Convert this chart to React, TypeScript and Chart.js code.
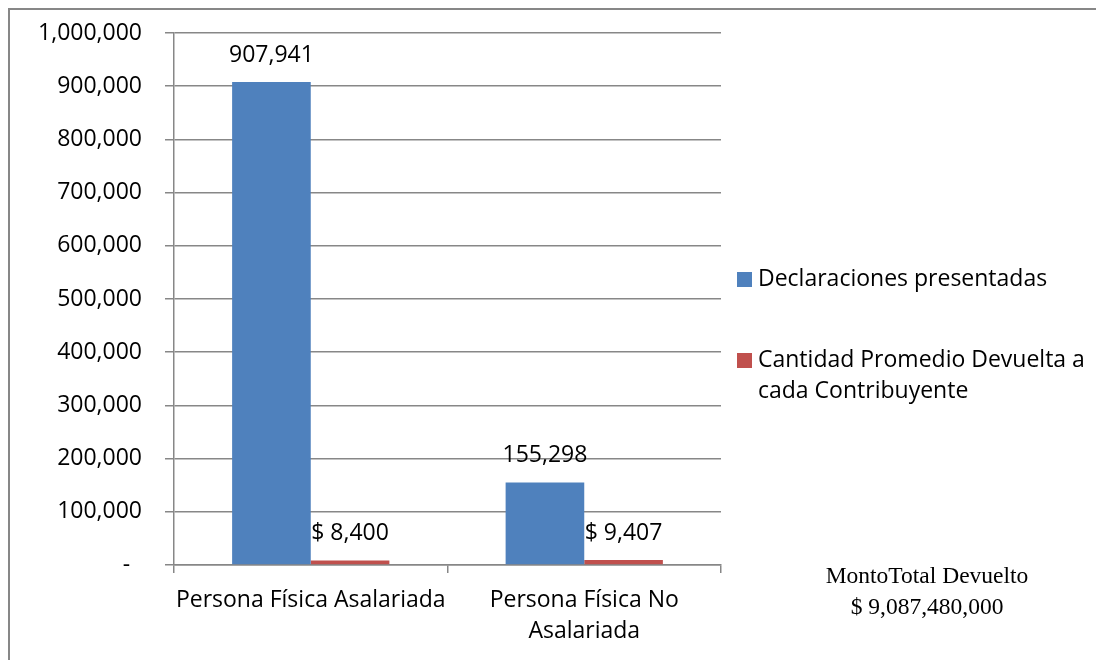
import React, { useEffect, useRef } from "react";
import { Chart, registerables } from "chart.js";

Chart.register(...registerables);

const categories: (string | string[])[] = [
  ["Persona Física Asalariada"],
  ["Persona Física No", "Asalariada"],
];
const declaraciones = [907941, 155298];
const promedioDevuelto = [8400, 9407];
const seriesNames = [
  "Declaraciones presentadas",
  "Cantidad Promedio Devuelta a cada Contribuyente",
];
const legendLines = [
  ["Declaraciones presentadas"],
  ["Cantidad Promedio Devuelta a", "cada Contribuyente"],
];
const seriesColors = ["#4F81BD", "#C0504D"];
const yMin = 0;
const yMax = 1000000;
const yStep = 100000;
const totalLines = ["MontoTotal Devuelto", "$ 9,087,480,000"];

const FONT = "'Open Sans', 'Noto Sans', sans-serif";
const FS = 23;
const fmt = (v: number) => v.toLocaleString("en-US");

const labelPlugin = {
  id: "barLabels",
  afterDatasetsDraw(chart: any) {
    const ctx = chart.ctx;
    ctx.save();
    ctx.font = `${FS}px ${FONT}`;
    ctx.fillStyle = "#000";
    ctx.textAlign = "center";
    ctx.textBaseline = "middle";
    chart.data.datasets.forEach((ds: any, di: number) => {
      const meta = chart.getDatasetMeta(di);
      meta.data.forEach((el: any, i: number) => {
        const v = ds.data[i] as number;
        const txt = di === 1 ? `$ ${fmt(v)}` : fmt(v);
        ctx.fillText(txt, el.x, el.y - 27);
      });
    });
    ctx.restore();
  },
};

export default function App() {
  const ref = useRef<HTMLCanvasElement | null>(null);
  useEffect(() => {
    if (!ref.current) return;
    const chart = new Chart(ref.current, {
      type: "bar",
      data: {
        labels: categories as any,
        datasets: [
          {
            label: seriesNames[0],
            data: declaraciones,
            backgroundColor: seriesColors[0],
            categoryPercentage: 0.575,
            barPercentage: 1,
          },
          {
            label: seriesNames[1],
            data: promedioDevuelto,
            backgroundColor: seriesColors[1],
            categoryPercentage: 0.575,
            barPercentage: 1,
          },
        ],
      },
      options: {
        responsive: false,
        animation: false,
        devicePixelRatio: 1,
        layout: { padding: { top: 25, right: 383, left: 0, bottom: 0 } },
        plugins: {
          legend: { display: false },
          tooltip: { enabled: false },
        },
        scales: {
          x: {
            afterFit: (s: any) => {
              s.height = 95;
              s.paddingLeft = 0;
              s.paddingRight = 0;
            },
            grid: {
              display: true,
              drawOnChartArea: false,
              drawTicks: true,
              tickLength: 8,
              color: "#878787",
              lineWidth: 1.5,
            },
            border: { display: true, color: "#878787", width: 1.5 },
            ticks: {
              color: "#000",
              padding: 12,
              maxRotation: 0,
              autoSkip: false,
              font: { family: FONT, size: FS, lineHeight: "31px" },
            },
          },
          y: {
            min: yMin,
            max: yMax,
            afterFit: (s: any) => {
              s.width = 166;
              s.paddingTop = 0;
              s.paddingBottom = 0;
            },
            grid: {
              color: "#878787",
              lineWidth: 1.5,
              tickLength: 9,
            },
            border: { display: true, color: "#878787", width: 1.5 },
            ticks: {
              stepSize: yStep,
              color: "#000",
              padding: 23,
              font: { family: FONT, size: FS },
              callback: (v: any) => (Number(v) === 0 ? "-  " : fmt(Number(v))),
            },
          },
        },
      },
      plugins: [labelPlugin],
    });
    return () => chart.destroy();
  }, []);

  return (
    <div style={{ position: "relative", width: 1096, height: 652, overflow: "hidden" }}>
      <div
        style={{
          position: "absolute",
          left: 0,
          top: 0,
          width: 1300,
          height: 900,
          borderTop: "2px solid #878787",
          borderLeft: "2px solid #878787",
          boxSizing: "border-box",
        }}
      />
      <canvas
        ref={ref}
        width={1096}
        height={652}
        style={{ position: "absolute", left: 0, top: 0, width: 1096, height: 652 }}
      />
      {legendLines.map((lines, i) => (
        <div
          key={i}
          style={{
            position: "absolute",
            left: 729,
            top: i === 0 ? 253.6 : 334.6,
            display: "flex",
            alignItems: "flex-start",
            fontFamily: FONT,
            fontSize: FS,
            lineHeight: "31px",
            color: "#000",
          }}
        >
          <div
            style={{
              width: 15,
              height: 15,
              background: seriesColors[i],
              marginTop: 10.4,
              marginRight: 6,
              flex: "none",
            }}
          />
          <div>
            {lines.map((l, j) => (
              <div key={j} style={{ whiteSpace: "nowrap" }}>
                {l}
              </div>
            ))}
          </div>
        </div>
      ))}
      <div
        style={{
          position: "absolute",
          left: 769,
          width: 300,
          top: 551.6,
          textAlign: "center",
          fontFamily: "'Liberation Serif', 'Times New Roman', serif",
          fontSize: 23.5,
          lineHeight: "31px",
          color: "#000",
          whiteSpace: "nowrap",
        }}
      >
        {totalLines.map((l, j) => (
          <div key={j}>{l}</div>
        ))}
      </div>
    </div>
  );
}
